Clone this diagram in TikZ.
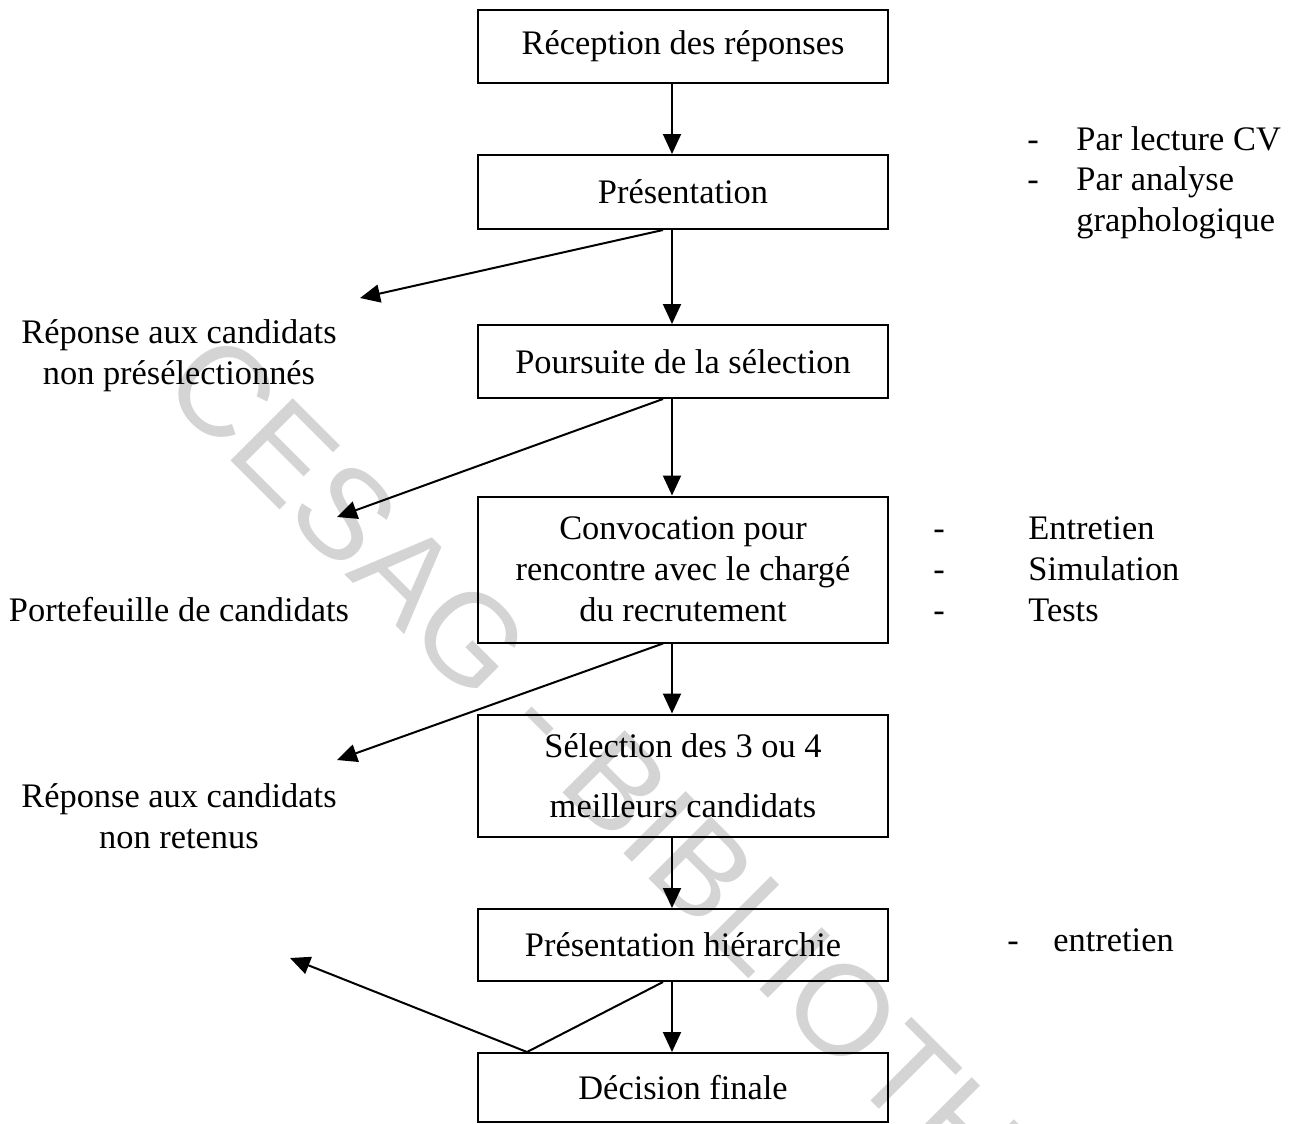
\documentclass[tikz,border=0pt]{standalone}
\usepackage{fontspec}
\setmainfont{Liberation Serif}
\newfontfamily\wmfont{Liberation Sans}
\usetikzlibrary{arrows.meta}
\begin{document}
\begin{tikzpicture}[x=0.5pt,y=-0.5pt,
  box/.style={draw, line width=1pt, minimum width=205pt, inner sep=0pt, align=center,
    font=\fontsize{17.2}{20.5}\selectfont},
  lblm/.style={inner sep=0pt, align=center, font=\fontsize{17.2}{20.5}\selectfont},
  lbl/.style={lblm, text height=0.72em, text depth=0.22em},
  lbll/.style={lbl, anchor=west, align=left},
  arr/.style={line width=1pt, -{Triangle[length=10pt,width=9pt]}},
  wm/.style={inner sep=0pt, text=black!17, rotate=-45, anchor=west,
    font=\wmfont\fontsize{64}{70}\selectfont}]
\useasboundingbox (0,0) rectangle (1290,1124);
% watermark
\begin{scope}
\clip (0,0) rectangle (1290,1124);
\node[wm] (wmark) at (181,365) {CESAG - BIBLIOTHEQUE};
\end{scope}
% boxes
\node[box, minimum height=36.5pt] (b1) at (683,46.5) {Réception des réponses};
\node[box, minimum height=37pt] (b2) at (683,192) {Présentation};
\node[box, minimum height=36.5pt] (b3) at (683,361.5) {Poursuite de la sélection};
\node[box, minimum height=73pt] (b4) at (683,569.5) {Convocation pour\\rencontre avec le chargé\\du recrutement};
\node[box, minimum height=61pt] (b5) at (683,775.5) {Sélection des 3 ou 4\\[9.5pt]meilleurs candidats};
\node[box, minimum height=36pt] (b6) at (683,945) {Présentation hiérarchie};
\node[box, minimum height=34.5pt] (b7) at (683,1087.5) {Décision finale};
% side labels
\node[lblm] (l1) at (179,356) {Réponse aux candidats\\non présélectionnés};
\node[lbl] (l2) at (179,616) {Portefeuille de candidats};
\node[lblm] (l3) at (179,816) {Réponse aux candidats\\non retenus};
% right lists
\node[lbl] (d1) at (1033,145) {-};
\node[lbl] (d2) at (1033,185) {-};
\node[lbll] (r1) at (1076,145) {Par lecture CV};
\node[lbll] (r2) at (1076,185) {Par analyse};
\node[lbll] (r3) at (1076,226) {graphologique};
\node[lbl] (d3) at (939,534) {-};
\node[lbl] (d4) at (939,575) {-};
\node[lbl] (d5) at (939,616) {-};
\node[lbll] (r4) at (1028,534) {Entretien};
\node[lbll] (r5) at (1028,575) {Simulation};
\node[lbll] (r6) at (1028,616) {Tests};
\node[lbl] (d6) at (1013,946) {-};
\node[lbll] (r7) at (1053,946) {entretien};
% reference coordinates
\coordinate (ax) at (672,0);
\coordinate (dx) at (663,0);
\coordinate (vx) at (527,0);
\coordinate (t1) at (360,298);
\coordinate (t2) at (337,517);
\coordinate (t3) at (337,760);
\coordinate (t4) at (290,958);
% main arrows
\draw[arr] (b1.south -| ax) -- (b2.north -| ax);
\draw[arr] (b2.south -| ax) -- (b3.north -| ax);
\draw[arr] (b3.south -| ax) -- (b4.north -| ax);
\draw[arr] (b4.south -| ax) -- (b5.north -| ax);
\draw[arr] (b5.south -| ax) -- (b6.north -| ax);
\draw[arr] (b6.south -| ax) -- (b7.north -| ax);
% side arrows
\draw[arr] (b2.south -| dx) -- (t1);
\draw[arr] (b3.south -| dx) -- (t2);
\draw[arr] (b4.south -| dx) -- (t3);
\draw[arr] (b6.south -| dx) -- (b7.north -| vx) -- (t4);
\end{tikzpicture}
\end{document}
